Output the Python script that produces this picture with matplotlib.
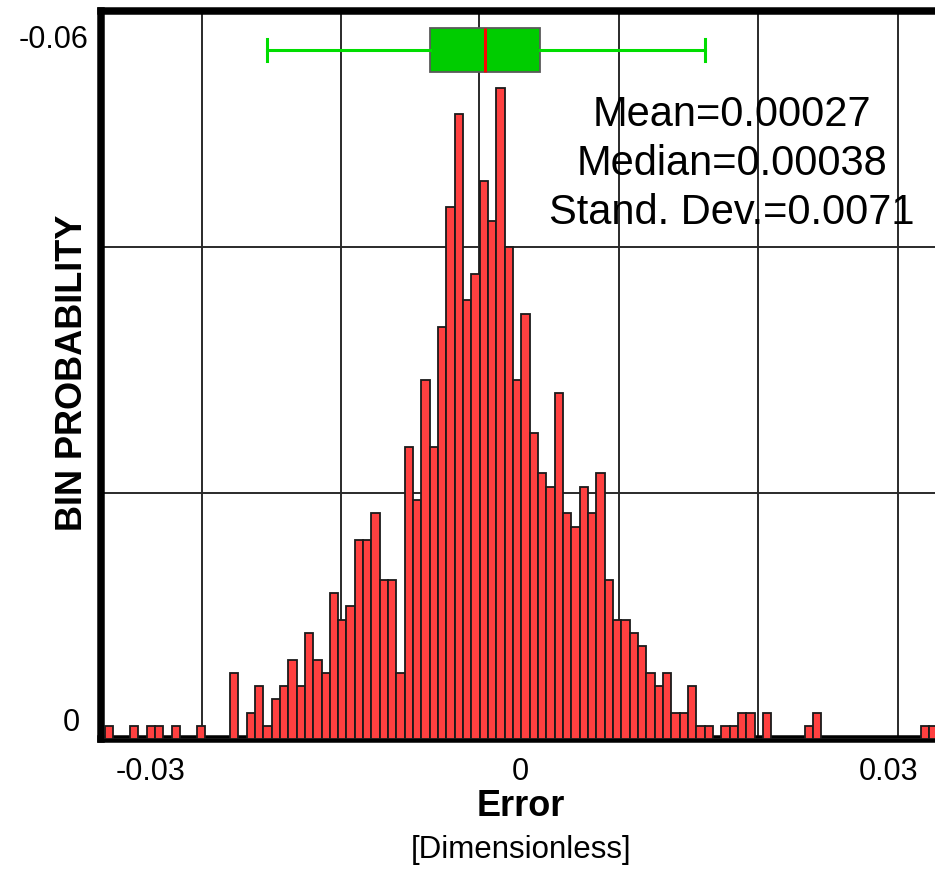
import matplotlib
matplotlib.use("Agg")
import matplotlib.pyplot as plt
import numpy as np
from matplotlib.transforms import blended_transform_factory

# ---- data ----
counts = [1, 0, 0, 1, 0, 1, 1, 0, 1, 0,
          0, 1, 0, 0, 0, 5, 0, 2, 4, 1,
          3, 4, 6, 4, 8, 6, 5, 11, 9, 10,
          15, 15, 17, 12, 12, 5, 22, 18, 27, 22,
          31, 40, 47, 33, 35, 42, 39, 49, 37, 27,
          32, 23, 20, 19, 26, 17, 16, 19, 17, 20,
          12, 9, 9, 8, 7, 5, 4, 5, 2, 2,
          4, 1, 1, 0, 1, 1, 2, 2, 0, 2,
          0, 0, 0, 0, 1, 2, 0, 0, 0, 0,
          0, 0, 0, 0, 0, 0, 0, 0, 1, 1]
bin_start = -0.03374
bin_width = 0.000677

x_ticks = [-0.03, 0.0, 0.03]
x_tick_labels = ["-0.03", "0", "0.03"]
x_grid = [-0.02588, -0.01458, -0.00331, 0.00807, 0.01933, 0.03073]
y_grid = [18.54, 37.0]
y_label_vals = [1.2, 52.6]
y_labels = ["0", "-0.06"]

box_stats = dict(whislo=-0.02057, q1=-0.00732, med=-0.00285,
                 q3=0.00163, whishi=0.01504, fliers=[])
box_level = 51.8

stats_text = "Mean=0.00027\nMedian=0.00038\nStand. Dev.=0.0071"

# ---- figure ----
W, H = 935, 869
fig = plt.figure(figsize=(W / 100, H / 100), dpi=100)
plt.rcParams['font.family'] = ['Liberation Sans', 'DejaVu Sans']

left_px, right_px, top_px, base_px = 101.3, 945.0, 11.0, 739.3
ax = fig.add_axes([left_px / W, (H - base_px) / H,
                   (right_px - left_px) / W, (base_px - top_px) / H])

ymax = (base_px - top_px) / 13.3
ax.set_xlim(-0.03404, 0.03455)
ax.set_ylim(0, ymax)

edges = bin_start + bin_width * np.arange(len(counts))
ax.bar(edges, counts, width=bin_width, align='edge', color='#FF4040',
       edgecolor='#1a1a1a', linewidth=1.3, zorder=3)

ax.vlines(x_grid, 0, ymax, colors='#2a2a2a', linewidth=1.4, zorder=1)
ax.hlines(y_grid, -0.04, 0.04, colors='#2a2a2a', linewidth=1.4, zorder=1)

bp = ax.bxp([box_stats], positions=[box_level], widths=3.3,
            orientation='horizontal', patch_artist=True, showfliers=False,
            manage_ticks=False,
            boxprops=dict(facecolor='#00CC00', edgecolor='#5a5a5a', linewidth=1.3),
            medianprops=dict(color='#FF0000', linewidth=2.2),
            whiskerprops=dict(color='#00DD00', linewidth=2.2),
            capprops=dict(color='#00DD00', linewidth=2.2))
for k in bp:
    for a in bp[k]:
        a.set_zorder(4)

for s in ['left', 'bottom', 'top']:
    ax.spines[s].set_linewidth(5.4)
    ax.spines[s].set_color('black')
ax.spines['right'].set_visible(False)

ax.set_xticks(x_ticks)
ax.set_xticklabels(x_tick_labels, fontsize=22)
ax.tick_params(axis='x', length=0, pad=13)
ax.set_yticks([])

trans = blended_transform_factory(fig.transFigure, ax.transData)
ax.text(80 / W, y_label_vals[0], y_labels[0], transform=trans, ha='right',
        va='center', fontsize=22)
ax.text(89 / W, y_label_vals[1], y_labels[1], transform=trans, ha='right',
        va='center', fontsize=22)

fig.text(73 / W, 1 - 373 / H, "BIN PROBABILITY", rotation=90, fontsize=26,
         fontweight='bold', ha='center', va='center')
fig.text(521 / W, 1 - 806 / H, "Error", fontsize=26, fontweight='bold',
         ha='center', va='center')
fig.text(521 / W, 1 - 850 / H, "[Dimensionless]", fontsize=22.5,
         ha='center', va='center')

fig.text(732 / W, 1 - 164 / H, stats_text, fontsize=30, ha='center',
         va='center', multialignment='center', linespacing=1.3, zorder=5)

fig.savefig("out.png", dpi=100)
